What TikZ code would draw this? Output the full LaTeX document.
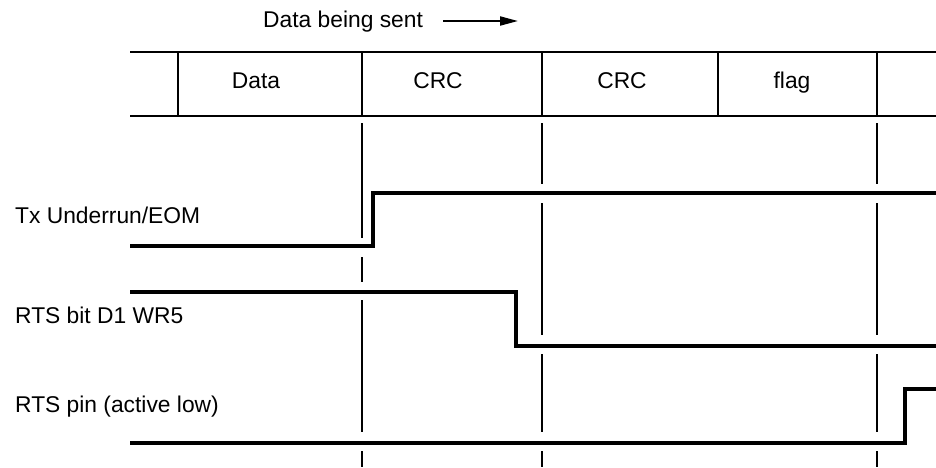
\documentclass[tikz,border=0pt]{standalone}
\usepackage{fontspec}
\setmainfont{Liberation Sans}
\usepackage{tikz}
\usetikzlibrary{arrows.meta}

\tikzset{lbl/.style={inner sep=0pt,font=\fontsize{22.8}{27}\selectfont},
wave/.style={line width=4pt},
frame/.style={line width=2pt}}

\begin{document}
\begin{tikzpicture}[x=1pt,y=-1pt]
\useasboundingbox(0,0)rectangle(936,467);
\draw[frame](130,52)--(936,52);
\draw[frame](130,116)--(936,116);
\foreach \x in {178,362,542,718,877}\draw[frame](\x,52)--(\x,116);
\node[lbl,anchor=base](data)at(256,88){Data};
\node[lbl,anchor=base](crca)at(438,88){CRC};
\node[lbl,anchor=base](crcb)at(622,88){CRC};
\node[lbl,anchor=base](flag)at(792,88){flag};
\node[lbl,anchor=base west](sent)at(263,27){Data being sent};
\coordinate(tail)at(443,21);
\coordinate(tip)at(518,21);
\draw[frame,-{Triangle[length=18pt,width=9pt]}](tail)--(tip);
\foreach \a/\b in {123/238,257/282,300/432,451/467}\draw[frame](362,\a)--(362,\b);
\foreach \x in {542,877}\foreach \a/\b in {123/184,203/335,354/432,451/467}\draw[frame](\x,\a)--(\x,\b);
\node[lbl,anchor=base west](eom)at(15,223){Tx Underrun/EOM};
\node[lbl,anchor=base west](rtsbit)at(15,323){RTS bit D1 WR5};
\node[lbl,anchor=base west](rtspin)at(15,412){RTS pin (active low)};
\draw[wave](130,246)--(373,246)--(373,193)--(936,193);
\draw[wave](130,292)--(516,292)--(516,346)--(936,346);
\draw[wave](130,443)--(905,443)--(905,389)--(936,389);
\end{tikzpicture}
\end{document}
